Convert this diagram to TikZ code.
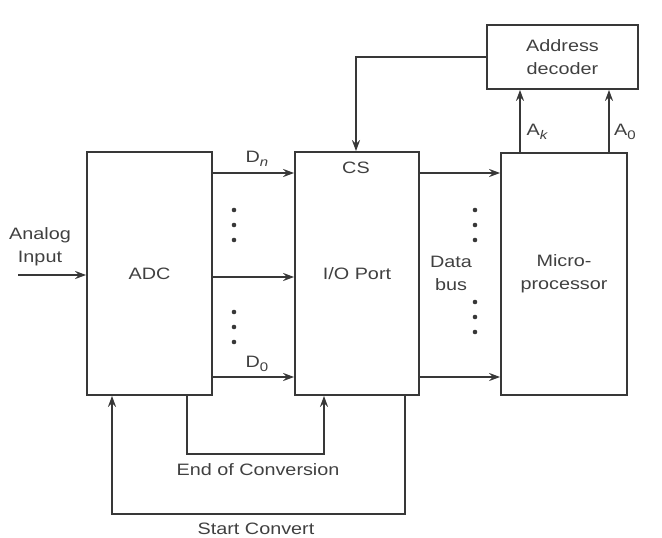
\documentclass[tikz,border=0pt]{standalone}
\usepackage{fontspec}
\setmainfont[FakeStretch=1.2]{Liberation Sans}
\usetikzlibrary{arrows.meta}
\definecolor{ink}{HTML}{383838}
\definecolor{txt}{HTML}{404040}
\newcommand{\sub}[1]{\raisebox{-4pt}{\fontsize{12.5}{12.5}\selectfont #1}}
\begin{document}
\begin{tikzpicture}[x=1pt,y=-1pt,
  font=\fontsize{16.5}{23}\selectfont, text=txt,
  blk/.style={draw=ink, line width=1.8pt, inner sep=0pt, align=center},
  arr/.style={draw=ink, line width=1.8pt, -{Stealth[length=11pt,width=8pt]}},
  lbl/.style={inner sep=0pt, align=center},
  dot/.style={fill=ink, draw=none}]
\useasboundingbox (0,0) rectangle (662,538);

% blocks
\node[blk, minimum width=125pt, minimum height=243pt] (adc) at (149.5,273.5) {ADC};
\node[blk, minimum width=124pt, minimum height=243pt] (io) at (357,273.5) {I/O Port};
\node[blk, minimum width=126pt, minimum height=242pt] (mp) at (564,274) {Micro-\\processor};
\node[blk, minimum width=151pt, minimum height=64pt] (dec) at (562.5,57) {Address\\decoder};

% labels
\node[lbl] (ain) at (40,247) {Analog\\Input};
\node[lbl] (cs) at (356,168) {CS};
\node[lbl] (dn) at (257,159) {D\sub{\itshape n}};
\node[lbl] (d0) at (257,364) {D\sub{0}};
\node[lbl] (ak) at (537,132) {A\sub{\itshape k}};
\node[lbl] (a0) at (625,132) {A\sub{0}};
\node[lbl] (bus) at (451,273) {Data\\bus};
\node[lbl] (eocl) at (258,470) {End of Conversion};
\node[lbl] (scl) at (256,529) {Start Convert};

% analog input
\coordinate (ain0) at (18,275);
\draw[arr] (ain0) -- (ain0 -| adc.west);

% ADC -> I/O port data lines
\foreach \y in {173,277,377}
  \draw[arr] (adc.east |- 0,\y) -- (io.west |- 0,\y);

% I/O port -> microprocessor data bus
\foreach \y in {173,377}
  \draw[arr] (io.east |- 0,\y) -- (mp.west |- 0,\y);

% address lines to the decoder
\draw[arr] (mp.north -| 520,0) -- (dec.south -| 520,0);
\draw[arr] (mp.north -| 609,0) -- (dec.south -| 609,0);

% chip select
\draw[arr] (dec.west) -| ([xshift=-1pt]io.north);

% end of conversion
\draw[arr] (adc.south -| 187,0) |- (324,454) -- (io.south -| 324,0);

% start convert
\draw[arr] (io.south -| 405,0) |- (112,514) -- (adc.south -| 112,0);

% continuation dots
\foreach \y in {210,225,240,312,327,342}
  \fill[dot] (234,\y) circle (2.3pt);
\foreach \y in {210,225,240,302,317,332}
  \fill[dot] (475,\y) circle (2.3pt);
\end{tikzpicture}
\end{document}
